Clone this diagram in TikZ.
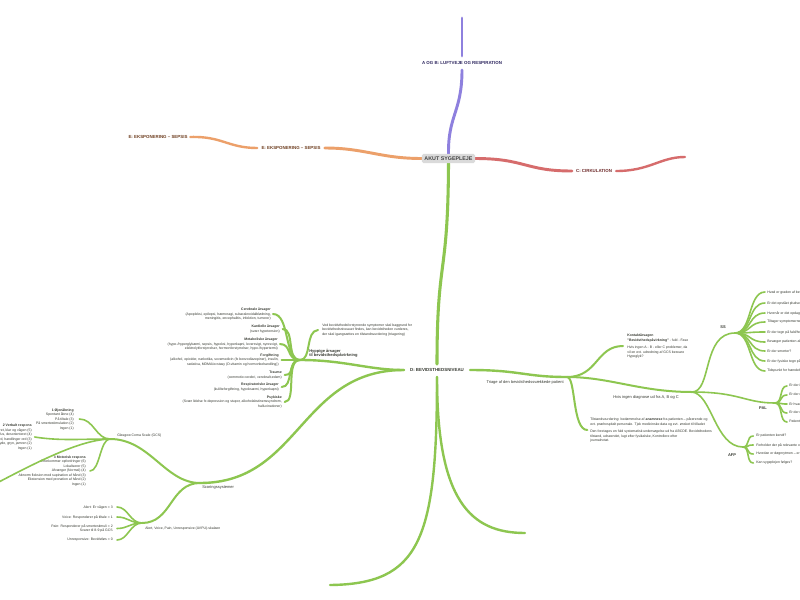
\documentclass[tikz,border=0pt]{standalone}
\usepackage{fontspec}
\setmainfont{Liberation Sans}
\usetikzlibrary{backgrounds}
\definecolor{gr}{RGB}{141,198,80}
\definecolor{pu}{RGB}{142,128,222}
\definecolor{orr}{RGB}{236,160,106}
\definecolor{rd}{RGB}{214,108,108}
\definecolor{txtP}{RGB}{45,38,95}
\definecolor{txtO}{RGB}{110,62,32}
\definecolor{txtR}{RGB}{110,42,42}
\definecolor{txtG}{RGB}{55,58,50}
\definecolor{boxg}{RGB}{218,218,218}
\definecolor{boxt}{RGB}{70,70,70}
\begin{document}
\begin{tikzpicture}[x=0.75pt,y=-0.75pt,
  gA/.style={draw=gr,line width=2.3pt,line cap=round},
  gB/.style={draw=gr,line width=1.8pt,line cap=round},
  gC/.style={draw=gr,line width=1.5pt,line cap=round},
  gD/.style={draw=gr,line width=1.2pt,line cap=round},
  pA/.style={draw=pu,line width=2.2pt,line cap=round},
  oA/.style={draw=orr,line width=2.2pt,line cap=round},
  oB/.style={draw=orr,line width=1.8pt,line cap=round},
  rA/.style={draw=rd,line width=2.2pt,line cap=round},
  rB/.style={draw=rd,line width=1.8pt,line cap=round},
  rootbox/.style={fill=boxg,rounded corners=1.2pt,minimum width=40pt,minimum height=6.8pt,inner sep=0pt,text=boxt,font=\bfseries\fontsize{4}{4.5}\selectfont},
  hd/.style={inner sep=0pt,font=\bfseries\fontsize{3.3}{4}\selectfont},
  mid/.style={inner sep=0pt,font=\fontsize{3}{3.6}\selectfont,text=txtG},
  midb/.style={inner sep=0pt,font=\bfseries\fontsize{3}{3.6}\selectfont,text=txtG},
  sm/.style={inner sep=0pt,font=\fontsize{2.6}{3.4}\selectfont,text=txtG},
  lft/.style={anchor=west,align=left},
  rgt/.style={anchor=east,align=right}]
\useasboundingbox (0,0) rectangle (800,600);
\clip (0,0) rectangle (800,600);
\begin{scope}[on background layer]
\fill[white] (0,0) rectangle (800,600);
\end{scope}

% ---------- nodes ----------
\node[rootbox] (root) at (448.5,158.5) {AKUT SYGEPLEJE};
\node[hd,text=txtP] (AB) at (462,63) {A OG B: LUFTVEJE OG RESPIRATION};
\node[hd,text=txtO] (E1) at (291,148) {E: EKSPONERING – SEPSIS};
\node[hd,text=txtO] (E2) at (158,137) {E: EKSPONERING – SEPSIS};
\node[hd,text=txtR] (C1) at (594,171) {C: CIRKULATION};
\node[hd,text=txtG] (D) at (437,370) {D: BEVIDSTHEDSNIVEAU};

\coordinate (ABin) at (462,70);
\coordinate (ABout) at (462,56);
\coordinate (ABend) at (462,18);
\coordinate (Cend) at (685,157);
\coordinate (Dt) at (437,364);
\coordinate (Dl) at (404,370);
\coordinate (Dr) at (470,370);
\coordinate (Db) at (437,377);
\coordinate (BL) at (330,585);
\coordinate (BR) at (525,533);

% left cluster
\coordinate (Hj) at (300,360);
\node[midb,anchor=south west,align=left] (Hy) at (309,358) {Hyppige årsager\\til bevidsthedspåvirkning};
\node[sm,rgt] (cer) at (271,314) {\textbf{Cerebrale årsager}\\(Apopleksi, epilepsi, hæmoragi, subaraknoidalblødning,\\meningitis, encephalitis, infektion, tumorer)};
\node[sm,rgt] (kar) at (280,329) {\textbf{Kardielle årsager}\\(svær hypotension)};
\node[sm,rgt] (met) at (278,344) {\textbf{Metaboliske årsager}\\(hypo-/hyperglykæmi, sepsis, hypoksi, hyperkapni, leversvigt, nyresvigt,\\elektrolytforstyrrelser, hormonforstyrrelser, hypo-/hypertermi)};
\node[sm,rgt] (for) at (279,360) {\textbf{Forgiftning}\\(alkohol, opioider, narkotika, sovemedicin (fx benzodiazepiner), insulin,\\sedativa, MDMA/ecstasy (D-vitamin og hormonbehandling))};
\node[sm,rgt] (tra) at (282,375) {\textbf{Traume}\\(commotio cerebri, cerebralt ødem)};
\node[sm,rgt] (res) at (279,387) {\textbf{Respiratoriske årsager}\\(kulilteforgiftning, hypoksæmi, hyperkapni)};
\node[sm,rgt] (psy) at (282,402) {\textbf{Psykiske}\\(Svær lidelse fx depression og stupor, alkoholabstinenssyndrom,\\hallucinationer)};
\node[sm,lft] (ved) at (322,330) {Ved bevidsthedsforstyrrende symptomer skal baggrund for\\bevidsthedsniveauet findes, kan bevidstheden vurderes,\\der skal igangsættes en tilstandsvurdering (triagering)};

% scoring
\coordinate (Sj) at (200,483);
\node[mid,anchor=north west] (S) at (202,485) {Scoringssystemer};
\coordinate (Gj) at (110,439);
\node[sm,anchor=south west] (G) at (117,437.5) {Glasgow Coma Scale (GCS)};
\node[sm,rgt] (oj) at (74,419) {\textbf{1 Øjenåbning}\\Spontant åbne (4)\\På tiltale (3)\\På smertestimulation (2)\\Ingen (1)};
\node[sm,rgt] (vb) at (32,437) {\textbf{2 Verbalt respons}\\Orienteret, klar og vågen (5)\\Konfus, desorienteret (4)\\Upassende ord, handlinger ord (3)\\Lyde, gryn, jamren (2)\\Ingen (1)};
\node[sm,rgt] (mo) at (86,471) {\textbf{3 Motorisk respons}\\Efterkommer opfordringer (6)\\Lokaliserer (5)\\Afværger (Normal) (4)\\Abnorm fleksion med supination af hånd (3)\\Ekstension med pronation af hånd (2)\\Ingen (1)};
\coordinate (off) at (-20,492);
\coordinate (Aj) at (142,523);
\node[sm,anchor=north west] (AV) at (145,526.5) {Alert, Voice, Pain, Unresponsive (AVPU)-skalaen};
\node[sm,rgt] (al) at (113,507) {Alert: Er vågen = 3};
\node[sm,rgt] (vo) at (113,517) {Voice: Responderer på tiltale = 1};
\node[sm,rgt] (pa) at (113,528.5) {Pain: Responderer på smertestimuli = 2\\Svarer til 8-9 på GCS};
\node[sm,rgt] (un) at (113,540) {Unresponsive: Bevidstløs = 0};

% right side
\coordinate (Tj) at (567,377);
\node[mid,anchor=north east] (Tr) at (564,380.5) {Triage af den bevidsthedssvækkede patient};
\node[sm,lft] (ko) at (627,346) {\textbf{Kontaktårsagen}\\\textbf{"Bevidsthedspåvirkning"} - fuld - Fase\\[2.2pt]Hvis ingen A - B - eller C problemer, da\\vil en evt. udredning af GCS besvare\\Hypoglyk?};
\coordinate (Hj2) at (692,392);
\node[mid,anchor=north west] (hv) at (613,395.5) {Hvis ingen diagnose ud fra A, B og C};
\node[sm,lft] (ti) at (590,430) {Tilstandsvurdering: bedømmelse af \textbf{anamnese} fra patienten – pårørende og\\evt. præhospitalt personale. Tjek medicinske data og evt. ønsket til tilladet\\[2.2pt]Den foretages en fuld systematisk undersøgelse ud fra ABCDE. Bevidsthedens\\tilstand, udseendet, lugt efter fysikalske, Kontrollere efter\\journalnotat.};
\coordinate (SSj) at (735,333);
\node[midb] (SS) at (723,327.5) {SS};
\coordinate (Pj) at (775,403);
\node[midb] (PAL) at (763,408.5) {PAL};
\coordinate (Fj) at (743,447);
\node[midb] (AFP) at (732,455) {AFP};

% ---------- connectors ----------
\begin{scope}[on background layer]
\draw[pA] (root.north) .. controls (448,115) and (462,112) .. (ABin);
\draw[pA] (ABout) -- (ABend);
\draw[oA] (root.west) .. controls (380,158.5) and (365,148) .. ([xshift=3pt]E1.east);
\draw[oB] ([xshift=-3pt]E1.west) .. controls (228,148) and (222,136) .. ([xshift=2pt]E2.east);
\draw[rA] (root.east) .. controls (525,158.5) and (525,171) .. ([xshift=-3pt]C1.west);
\draw[rB] ([xshift=3pt]C1.east) .. controls (650,171) and (660,157) .. (Cend);
\draw[gA] (root.south) .. controls (448,280) and (437,255) .. (Dt);
\end{scope}

\draw[gB] (Db) .. controls (437,540) and (420,584) .. (BL);
\draw[gB] (Db) .. controls (437,500) and (470,533) .. (BR);

\draw[gB] (Dl) .. controls (368,370) and (345,360) .. (Hj);
\draw[gC] (Hj) .. controls (284,360) and (290,314) .. ([xshift=1.5pt]cer.east);
\draw[gC] (Hj) .. controls (286,360) and (295,329) .. ([xshift=2pt]kar.east);
\draw[gC] (Hj) .. controls (286,360) and (292,344) .. ([xshift=1.5pt]met.east);
\draw[gC] (Hj) .. controls (292,360) and (290,360) .. ([xshift=2pt]for.east);
\draw[gC] (Hj) .. controls (288,360) and (296,375) .. ([xshift=2pt]tra.east);
\draw[gC] (Hj) .. controls (286,360) and (294,387) .. ([xshift=2pt]res.east);
\draw[gC] (Hj) .. controls (285,360) and (297,402) .. ([xshift=2pt]psy.east);
\draw[gC] (Hj) .. controls (312,360) and (305,331) .. ([xshift=-3pt]ved.west);

\draw[gB] (Dl) .. controls (300,370) and (300,483) .. (Sj);
\draw[gC] (Sj) .. controls (165,483) and (150,439) .. (Gj);
\draw[gD] (Gj) .. controls (96,439) and (94,419) .. ([xshift=4pt]oj.east);
\draw[gD] (Gj) .. controls (80,439) and (60,441) .. ([xshift=2pt]vb.east);
\draw[gD] (Gj) .. controls (100,439) and (100,471) .. ([xshift=3pt]mo.east);
\draw[gD] (Gj) .. controls (80,440) and (40,460) .. (off);
\draw[gC] (Sj) .. controls (170,483) and (172,523) .. (Aj);
\draw[gD] (Aj) .. controls (130,523) and (128,507) .. ([xshift=3pt]al.east);
\draw[gD] (Aj) .. controls (130,523) and (128,517) .. ([xshift=3pt]vo.east);
\draw[gD] (Aj) .. controls (130,523) and (128,528.5) .. ([xshift=3pt]pa.east);
\draw[gD] (Aj) .. controls (130,523) and (128,540) .. ([xshift=3pt]un.east);

\draw[gB] (Dr) .. controls (520,370) and (525,377) .. (Tj);
\draw[gC] (Tj) .. controls (598,377) and (596,346) .. ([xshift=-3pt]ko.west);
\draw[gC] (Tj) .. controls (610,377) and (640,392) .. (Hj2);
\draw[gC] (Tj) .. controls (576,377) and (572,430) .. ([xshift=-2pt]ti.west);
\draw[gD] (Hj2) .. controls (712,392) and (702,333) .. (SSj);
\draw[gD] (Hj2) .. controls (740,392) and (745,403) .. (Pj);
\draw[gD] (Hj2) .. controls (712,394) and (715,447) .. (Fj);

\foreach \y/\t [count=\i] in {292/{Hvad er graden af bevidsthedspåvirkningen?},303/{Er det opstået pludseligt?},313/{Hvornår er det opdaget?},322/{Tiltager symptomerne?},332/{Er der tegn på fald/hovedtraume?},342/{Bevæger patienten alle ekstremiteter?},351/{Er der smerter?},361/{Er der fysiske tegn på traume?},371/{Tidspunkt for hændelsen?}}{
  \node[sm,lft] (ss\i) at (767,\y) {\t};
  \draw[gD] (SSj) .. controls (752,333) and (748,\y) .. ([xshift=-1.5pt]ss\i.west);
}
\foreach \y/\t [count=\i] in {386/{Er der indtaget noget?},395/{Er der nogen medicin?},404/{Er hvad er sket?},413/{Er der misbrug?},422/{Patientens sygehistorie?}}{
  \node[sm,lft] (pl\i) at (789,\y) {\t};
  \draw[gD] (Pj) .. controls (783,403) and (779,\y) .. ([xshift=-1.5pt]pl\i.west);
}
\foreach \y/\t [count=\i] in {436/{Er patienten kendt?},445/{Forholder der på relevante oplysninger?},454/{Hvordan er døgnrytmen – er der ændringer?},463/{Kan sygeplejen følges?}}{
  \node[sm,lft] (af\i) at (756,\y) {\t};
  \draw[gD] (Fj) .. controls (750,447) and (746,\y) .. ([xshift=-2pt]af\i.west);
}
\end{tikzpicture}
\end{document}
